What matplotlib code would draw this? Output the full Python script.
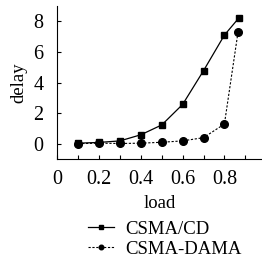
import matplotlib
matplotlib.use("Agg")
import matplotlib.pyplot as plt
from matplotlib.ticker import MultipleLocator, FuncFormatter

plt.rcParams['font.family'] = ['Liberation Serif', 'DejaVu Serif']

load_cd = [0.1, 0.2, 0.3, 0.4, 0.5, 0.6, 0.7, 0.8, 0.87]
delay_cd = [0.05, 0.1, 0.2, 0.6, 1.24, 2.58, 4.78, 7.1, 8.23]
load_dama = [0.1, 0.2, 0.3, 0.4, 0.5, 0.6, 0.7, 0.8, 0.865]
delay_dama = [0.02, 0.05, 0.03, 0.05, 0.11, 0.2, 0.41, 1.3, 7.28]
labels = ['CSMA/CD', 'CSMA-DAMA']

fig = plt.figure(figsize=(2.62, 2.59), dpi=100)
ax = fig.add_axes([0.219, 0.385, 0.781, 0.592])

ax.plot(load_cd, delay_cd, color='black', lw=0.9, ls='-', marker='s', ms=5, label=labels[0])
ax.plot(load_dama, delay_dama, color='black', lw=0.8, ls=(0, (2, 1.5)), marker='o', ms=5.5, label=labels[1])

ax.set_xlim(0, 0.98)
ax.set_ylim(-1, 9)
ax.spines['top'].set_visible(False)
ax.spines['right'].set_visible(False)
ax.xaxis.set_major_locator(MultipleLocator(0.1))
ax.xaxis.set_major_formatter(FuncFormatter(lambda v, p: ('0' if abs(v) < 1e-9 else f'{v:.1f}') if round(v * 10) % 2 == 0 and v < 0.85 else ''))
ax.set_yticks([0, 2, 4, 6, 8])
ax.tick_params(direction='in', length=3, width=0.8, labelsize=14.5)
ax.tick_params(axis='x', pad=8)
ax.tick_params(axis='y', pad=10)
ax.set_xlabel('load', fontsize=13.5, labelpad=4)
ax.set_ylabel('delay', fontsize=13.5, labelpad=4)

fig.legend(loc='upper left', bbox_to_anchor=(0.3, 0.185), frameon=False, fontsize=13.5,
           markerscale=0.6, handlelength=1.4, handletextpad=0.6, labelspacing=0.15, borderpad=0)

fig.savefig('out.png', dpi=100)
